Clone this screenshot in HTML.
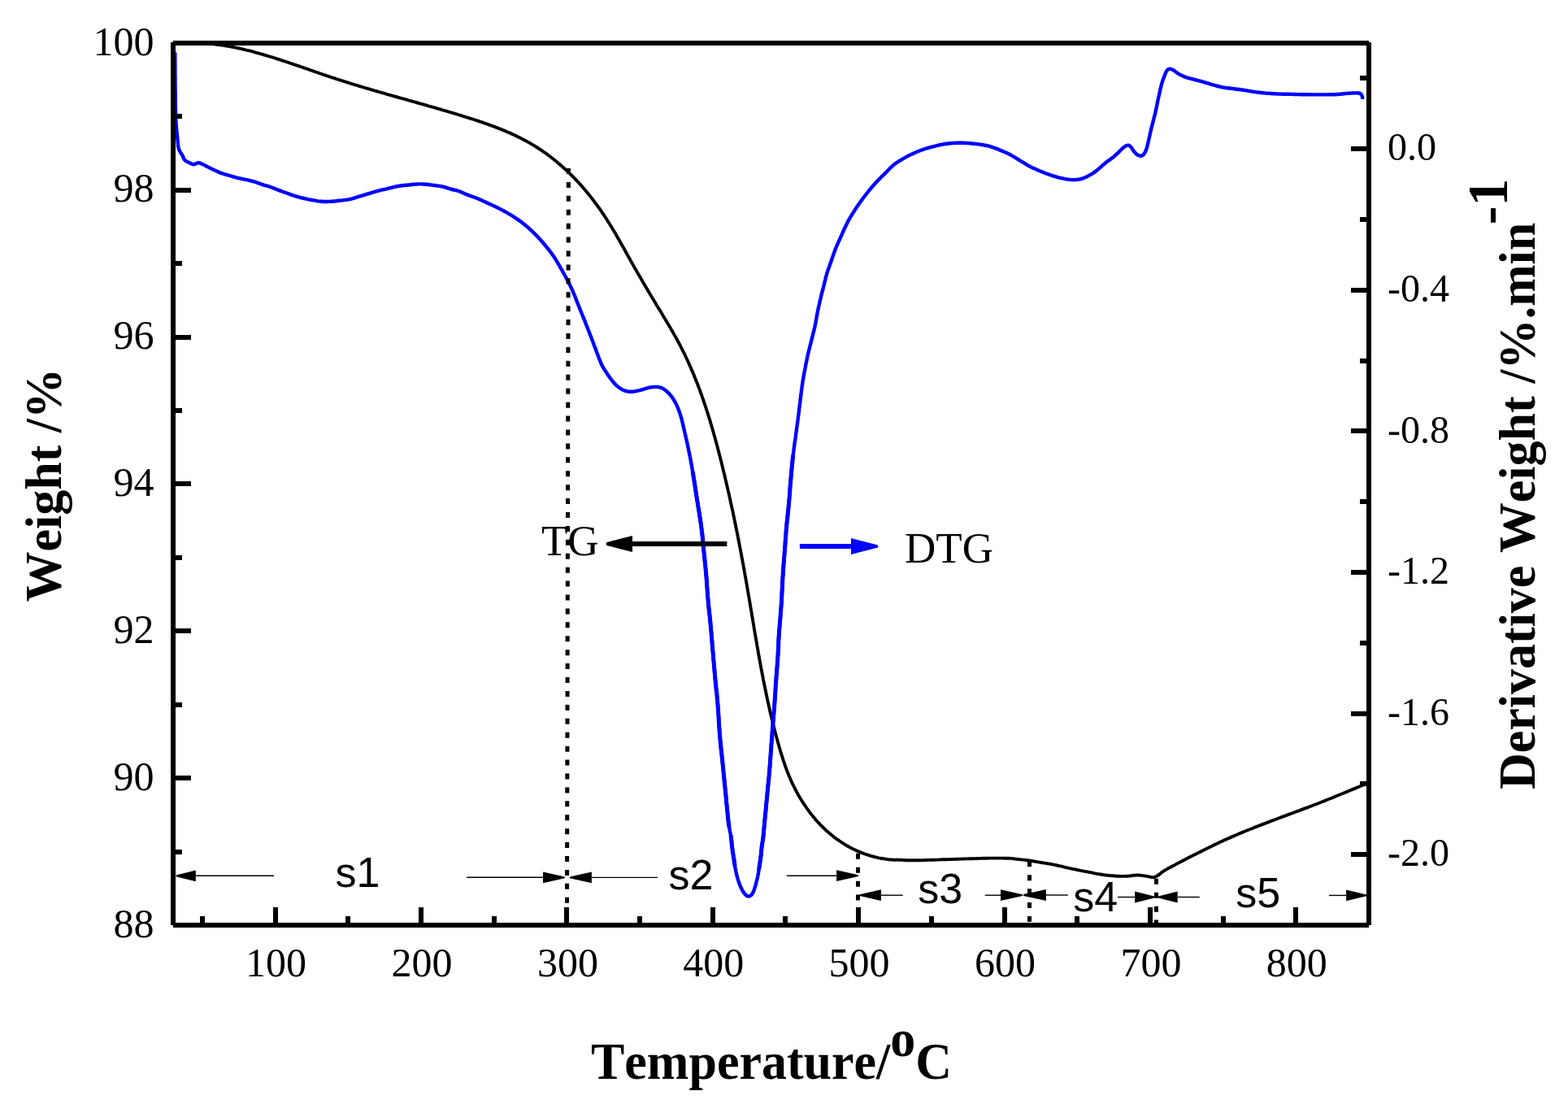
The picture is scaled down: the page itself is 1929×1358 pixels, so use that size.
<!DOCTYPE html>
<html><head><meta charset="utf-8"><title>TG-DTG</title>
<style>html,body{margin:0;padding:0;background:#fff;overflow:hidden}svg{display:block}text{font-kerning:none}</style>
</head><body>
<svg width="1929" height="1358" viewBox="0 0 1929 1358">
<rect width="1929" height="1358" fill="#fff"/>
<path d="M213.3 53.9L215.3 53.6L217.3 53.5L219.3 53.3L221.3 53.1L223.3 53.0L225.3 52.9L227.3 52.8L229.3 52.7L231.3 52.7L233.3 52.7L235.2 52.6L237.2 52.6L239.2 52.7L241.2 52.7L243.2 52.8L245.2 52.8L247.1 52.9L249.1 53.0L251.1 53.2L253.1 53.3L255.0 53.4L257.0 53.6L259.0 53.8L261.0 54.0L262.9 54.2L264.9 54.5L266.8 54.7L268.8 55.0L270.8 55.2L272.7 55.5L274.7 55.8L276.6 56.1L278.6 56.5L280.6 56.8L282.5 57.1L284.5 57.5L286.4 57.9L288.4 58.3L290.3 58.7L292.3 59.1L294.2 59.5L296.1 59.9L298.1 60.4L300.0 60.8L302.0 61.3L303.9 61.8L305.9 62.2L307.8 62.7L309.7 63.2L311.7 63.7L313.6 64.3L315.5 64.8L317.5 65.3L319.4 65.9L321.3 66.4L323.3 67.0L325.2 67.5L327.1 68.1L329.0 68.7L331.0 69.3L332.9 69.9L334.8 70.4L336.7 71.0L338.7 71.7L340.6 72.3L342.5 72.9L344.4 73.5L346.3 74.1L348.3 74.8L350.2 75.4L352.1 76.0L354.0 76.7L355.9 77.3L357.8 78.0L359.8 78.6L361.7 79.3L363.6 79.9L365.5 80.6L367.4 81.2L369.3 81.9L371.2 82.5L373.1 83.2L375.0 83.9L376.9 84.5L378.9 85.2L380.8 85.8L382.7 86.5L384.6 87.2L386.5 87.8L388.4 88.5L390.3 89.1L392.2 89.8L394.1 90.5L396.0 91.1L397.9 91.8L399.8 92.4L401.7 93.1L403.6 93.7L405.5 94.3L407.4 95.0L409.3 95.6L411.2 96.2L413.1 96.9L415.0 97.5L416.9 98.1L418.8 98.7L420.7 99.3L422.6 99.9L424.5 100.5L426.4 101.1L428.3 101.7L430.2 102.3L432.1 102.9L434.0 103.5L435.9 104.1L437.8 104.6L439.7 105.2L441.6 105.8L443.5 106.4L445.4 106.9L447.3 107.5L449.2 108.1L451.1 108.6L453.0 109.2L454.9 109.7L456.8 110.3L458.7 110.9L460.6 111.4L462.5 112.0L464.4 112.5L466.2 113.1L468.1 113.6L470.0 114.1L471.9 114.7L473.8 115.2L475.7 115.8L477.6 116.3L479.5 116.8L481.4 117.4L483.3 117.9L485.2 118.5L487.1 119.0L489.0 119.5L490.9 120.1L492.8 120.6L494.7 121.1L496.6 121.7L498.5 122.2L500.4 122.7L502.3 123.3L504.3 123.8L506.2 124.3L508.1 124.9L510.0 125.4L511.9 126.0L513.8 126.5L515.7 127.0L517.6 127.6L519.5 128.1L521.4 128.7L523.3 129.2L525.2 129.7L527.1 130.3L529.0 130.8L531.0 131.4L532.9 131.9L534.8 132.5L536.7 133.0L538.6 133.6L540.5 134.1L542.4 134.7L544.3 135.3L546.3 135.8L548.2 136.4L550.1 136.9L552.0 137.5L553.9 138.1L555.9 138.7L557.8 139.2L559.7 139.8L561.6 140.4L563.5 141.0L565.5 141.6L567.4 142.2L569.3 142.8L571.2 143.4L573.2 144.0L575.1 144.6L577.0 145.2L579.0 145.8L580.9 146.4L582.8 147.0L584.7 147.7L586.7 148.3L588.6 148.9L590.5 149.6L592.4 150.2L594.4 150.9L596.3 151.6L598.2 152.2L600.1 152.9L602.0 153.6L603.9 154.3L605.8 155.0L607.7 155.7L609.6 156.4L611.5 157.1L613.4 157.9L615.3 158.6L617.1 159.4L619.0 160.1L620.9 160.9L622.7 161.7L624.6 162.5L626.4 163.3L628.3 164.1L630.1 164.9L632.0 165.8L633.8 166.6L635.6 167.5L637.4 168.4L639.2 169.3L641.0 170.2L642.8 171.1L644.5 172.0L646.3 172.9L648.1 173.9L649.8 174.9L651.5 175.8L653.3 176.8L655.0 177.9L656.7 178.9L658.4 179.9L660.1 181.0L661.7 182.0L663.4 183.1L665.1 184.2L666.7 185.3L668.3 186.5L670.0 187.6L671.6 188.7L673.2 189.9L674.8 191.1L676.4 192.3L678.0 193.5L679.5 194.7L681.1 195.9L682.6 197.2L684.2 198.4L685.7 199.7L687.2 201.0L688.7 202.2L690.2 203.5L691.7 204.9L693.2 206.2L694.6 207.5L696.1 208.9L697.5 210.2L699.0 211.6L700.4 212.9L701.8 214.3L703.2 215.7L704.6 217.1L706.0 218.5L707.4 220.0L708.8 221.4L710.1 222.9L711.5 224.3L712.8 225.8L714.1 227.2L715.5 228.7L716.8 230.2L718.1 231.7L719.4 233.2L720.6 234.7L721.9 236.2L723.2 237.8L724.4 239.3L725.7 240.9L726.9 242.4L728.1 244.0L729.3 245.5L730.5 247.1L731.7 248.7L732.9 250.3L734.1 251.9L735.3 253.5L736.4 255.1L737.6 256.7L738.7 258.3L739.8 259.9L740.9 261.6L742.0 263.2L743.1 264.8L744.2 266.5L745.3 268.1L746.4 269.8L747.4 271.5L748.5 273.1L749.5 274.8L750.6 276.5L751.6 278.1L752.6 279.8L753.6 281.5L754.7 283.2L755.7 284.9L756.7 286.6L757.7 288.3L758.6 290.0L759.6 291.7L760.6 293.4L761.6 295.1L762.5 296.8L763.5 298.5L764.5 300.2L765.4 301.9L766.4 303.6L767.4 305.4L768.3 307.1L769.3 308.8L770.2 310.5L771.2 312.2L772.1 313.9L773.1 315.7L774.1 317.4L775.0 319.1L776.0 320.8L776.9 322.5L777.9 324.2L778.9 325.9L779.8 327.7L780.8 329.4L781.8 331.1L782.8 332.8L783.7 334.5L784.7 336.2L785.7 337.9L786.7 339.6L787.7 341.3L788.7 343.0L789.7 344.7L790.6 346.4L791.6 348.1L792.6 349.8L793.6 351.5L794.7 353.3L795.7 355.0L796.7 356.7L797.7 358.4L798.7 360.1L799.7 361.8L800.7 363.5L801.8 365.2L802.8 366.9L803.8 368.6L804.8 370.3L805.9 372.0L806.9 373.8L807.9 375.5L809.0 377.2L810.0 378.9L811.1 380.6L812.1 382.3L813.2 384.1L814.2 385.8L815.2 387.5L816.3 389.2L817.3 391.0L818.4 392.7L819.4 394.4L820.5 396.2L821.5 397.9L822.5 399.6L823.6 401.4L824.6 403.1L825.6 404.9L826.6 406.6L827.6 408.3L828.6 410.1L829.6 411.9L830.6 413.6L831.6 415.4L832.6 417.1L833.5 418.9L834.5 420.7L835.4 422.4L836.4 424.2L837.3 426.0L838.2 427.8L839.1 429.6L840.0 431.4L840.9 433.1L841.8 434.9L842.7 436.7L843.5 438.5L844.4 440.3L845.2 442.1L846.1 444.0L846.9 445.8L847.7 447.6L848.5 449.4L849.3 451.2L850.1 453.0L850.9 454.9L851.7 456.7L852.5 458.5L853.2 460.3L854.0 462.2L854.7 464.0L855.5 465.9L856.2 467.7L856.9 469.5L857.7 471.4L858.4 473.2L859.1 475.1L859.8 476.9L860.5 478.8L861.2 480.7L861.8 482.5L862.5 484.4L863.2 486.2L863.8 488.1L864.5 490.0L865.2 491.8L865.8 493.7L866.4 495.6L867.1 497.5L867.7 499.3L868.3 501.2L868.9 503.1L869.5 505.0L870.1 506.9L870.7 508.7L871.3 510.6L871.9 512.5L872.5 514.4L873.1 516.3L873.7 518.2L874.2 520.1L874.8 522.0L875.4 523.9L875.9 525.8L876.5 527.7L877.0 529.6L877.6 531.5L878.1 533.4L878.6 535.3L879.2 537.2L879.7 539.1L880.2 541.0L880.8 543.0L881.3 544.9L881.8 546.8L882.3 548.7L882.8 550.6L883.3 552.5L883.8 554.5L884.3 556.4L884.8 558.3L885.3 560.2L885.8 562.1L886.3 564.1L886.8 566.0L887.3 567.9L887.7 569.8L888.2 571.8L888.7 573.7L889.2 575.6L889.6 577.5L890.1 579.5L890.6 581.4L891.1 583.3L891.5 585.3L892.0 587.2L892.4 589.1L892.9 591.1L893.3 593.0L893.8 594.9L894.2 596.9L894.7 598.8L895.1 600.8L895.6 602.7L896.0 604.6L896.5 606.6L896.9 608.5L897.3 610.4L897.8 612.4L898.2 614.3L898.6 616.3L899.0 618.2L899.5 620.2L899.9 622.1L900.3 624.0L900.7 626.0L901.2 627.9L901.6 629.9L902.0 631.8L902.4 633.8L902.8 635.7L903.2 637.7L903.6 639.6L904.0 641.6L904.4 643.5L904.8 645.5L905.2 647.4L905.6 649.4L906.0 651.3L906.4 653.3L906.8 655.2L907.2 657.2L907.6 659.1L907.9 661.1L908.3 663.0L908.7 665.0L909.1 667.0L909.5 668.9L909.8 670.9L910.2 672.8L910.6 674.8L911.0 676.7L911.3 678.7L911.7 680.6L912.1 682.6L912.4 684.6L912.8 686.5L913.2 688.5L913.5 690.4L913.9 692.4L914.3 694.4L914.6 696.3L915.0 698.3L915.3 700.2L915.7 702.2L916.0 704.1L916.4 706.1L916.7 708.1L917.1 710.0L917.4 712.0L917.8 713.9L918.1 715.9L918.5 717.9L918.8 719.8L919.1 721.8L919.5 723.7L919.8 725.7L920.1 727.7L920.5 729.6L920.8 731.6L921.2 733.5L921.5 735.5L921.8 737.5L922.2 739.4L922.5 741.4L922.8 743.4L923.1 745.3L923.5 747.3L923.8 749.2L924.1 751.2L924.5 753.2L924.8 755.1L925.1 757.1L925.4 759.0L925.8 761.0L926.1 763.0L926.4 764.9L926.8 766.9L927.1 768.8L927.4 770.8L927.7 772.8L928.1 774.7L928.4 776.7L928.7 778.6L929.1 780.6L929.4 782.5L929.7 784.5L930.1 786.5L930.4 788.4L930.8 790.4L931.1 792.3L931.4 794.3L931.8 796.3L932.1 798.2L932.5 800.2L932.8 802.1L933.1 804.1L933.5 806.0L933.8 808.0L934.2 809.9L934.5 811.9L934.9 813.8L935.3 815.8L935.6 817.8L936.0 819.7L936.3 821.7L936.7 823.6L937.1 825.6L937.4 827.5L937.8 829.5L938.2 831.4L938.6 833.4L938.9 835.3L939.3 837.3L939.7 839.2L940.1 841.2L940.5 843.1L940.9 845.0L941.3 847.0L941.7 848.9L942.1 850.9L942.5 852.8L942.9 854.8L943.3 856.7L943.7 858.7L944.1 860.6L944.5 862.5L945.0 864.5L945.4 866.4L945.8 868.4L946.3 870.3L946.7 872.2L947.1 874.2L947.6 876.1L948.0 878.1L948.5 880.0L949.0 881.9L949.4 883.9L949.9 885.8L950.4 887.7L950.8 889.7L951.3 891.6L951.8 893.5L952.3 895.4L952.8 897.4L953.3 899.3L953.8 901.2L954.3 903.2L954.8 905.1L955.3 907.0L955.9 908.9L956.4 910.9L956.9 912.8L957.5 914.7L958.0 916.6L958.6 918.5L959.1 920.5L959.7 922.4L960.2 924.3L960.8 926.2L961.4 928.1L962.0 930.0L962.6 931.9L963.2 933.8L963.8 935.7L964.5 937.6L965.1 939.5L965.8 941.4L966.4 943.3L967.1 945.2L967.8 947.1L968.5 948.9L969.3 950.8L970.0 952.6L970.7 954.5L971.5 956.3L972.3 958.2L973.1 960.0L973.9 961.8L974.8 963.6L975.6 965.4L976.5 967.2L977.4 969.0L978.3 970.8L979.3 972.6L980.2 974.3L981.2 976.1L982.1 977.8L983.1 979.6L984.1 981.3L985.2 983.0L986.2 984.7L987.3 986.4L988.4 988.0L989.4 989.7L990.6 991.4L991.7 993.0L992.8 994.6L994.0 996.2L995.2 997.8L996.3 999.4L997.5 1001.0L998.8 1002.5L1000.0 1004.0L1001.3 1005.6L1002.5 1007.1L1003.8 1008.6L1005.1 1010.0L1006.4 1011.5L1007.8 1012.9L1009.1 1014.4L1010.5 1015.8L1011.9 1017.1L1013.3 1018.5L1014.7 1019.9L1016.1 1021.2L1017.5 1022.5L1019.0 1023.8L1020.5 1025.1L1022.0 1026.3L1023.5 1027.6L1025.0 1028.8L1026.5 1030.0L1028.1 1031.2L1029.7 1032.3L1031.3 1033.4L1032.9 1034.5L1034.5 1035.6L1036.1 1036.7L1037.7 1037.7L1039.4 1038.8L1041.1 1039.8L1042.8 1040.7L1044.5 1041.7L1046.2 1042.6L1047.9 1043.5L1049.7 1044.4L1051.4 1045.2L1053.2 1046.1L1055.0 1046.9L1056.8 1047.6L1058.6 1048.4L1060.4 1049.1L1062.2 1049.8L1064.1 1050.5L1065.9 1051.1L1067.8 1051.7L1069.7 1052.3L1071.5 1052.9L1073.4 1053.4L1075.4 1053.9L1077.3 1054.4L1079.2 1054.8L1081.1 1055.3L1083.1 1055.7L1085.0 1056.0L1087.0 1056.3L1089.0 1056.6L1091.0 1056.9L1093.0 1057.2L1095.0 1057.4L1097.0 1057.5L1099.0 1057.7L1101.0 1057.8L1102.7 1057.5L1104.0 1057.6L1105.7 1057.7L1107.7 1057.8L1110.0 1057.9L1112.3 1058.0L1114.8 1058.2L1117.1 1058.2L1119.3 1058.3L1121.3 1058.3L1123.2 1058.3L1125.1 1058.3L1126.9 1058.3L1128.9 1058.3L1131.0 1058.2L1133.4 1058.2L1136.0 1058.1L1139.0 1058.0L1142.2 1057.9L1145.7 1057.8L1149.3 1057.7L1153.0 1057.6L1156.7 1057.4L1160.4 1057.3L1164.0 1057.2L1167.5 1057.1L1171.0 1057.0L1174.5 1056.9L1178.0 1056.7L1181.5 1056.6L1185.0 1056.5L1188.5 1056.4L1192.0 1056.3L1195.5 1056.2L1199.2 1056.1L1202.8 1056.0L1206.4 1055.9L1210.0 1055.8L1213.5 1055.7L1216.8 1055.6L1220.0 1055.6L1223.0 1055.6L1226.0 1055.6L1228.8 1055.6L1231.5 1055.6L1234.1 1055.6L1236.5 1055.7L1238.8 1055.7L1240.9 1055.8L1242.7 1055.9L1244.3 1056.0L1245.6 1056.1L1246.8 1056.3L1247.9 1056.4L1249.1 1056.6L1250.4 1056.7L1251.8 1056.9L1253.4 1057.1L1255.1 1057.3L1256.9 1057.4L1258.7 1057.6L1260.5 1057.8L1262.4 1058.0L1264.2 1058.3L1265.9 1058.5L1267.6 1058.7L1269.2 1059.0L1270.7 1059.3L1272.3 1059.5L1273.9 1059.8L1275.5 1060.1L1277.2 1060.4L1279.0 1060.7L1280.8 1061.0L1282.7 1061.3L1284.6 1061.6L1286.6 1061.9L1288.6 1062.2L1290.8 1062.6L1293.0 1063.0L1295.3 1063.4L1297.8 1063.9L1300.4 1064.5L1303.1 1065.1L1305.9 1065.7L1308.7 1066.4L1311.5 1067.1L1314.3 1067.7L1317.1 1068.3L1319.8 1068.9L1322.6 1069.4L1325.3 1070.0L1328.0 1070.6L1330.7 1071.1L1333.5 1071.7L1336.2 1072.2L1338.9 1072.7L1341.6 1073.2L1344.3 1073.7L1347.0 1074.3L1349.8 1074.8L1352.5 1075.3L1355.2 1075.7L1357.9 1076.1L1360.6 1076.5L1363.4 1076.8L1366.2 1077.1L1369.0 1077.3L1371.8 1077.5L1374.6 1077.7L1377.3 1077.8L1379.9 1077.9L1382.4 1077.9L1384.7 1077.8L1387.0 1077.7L1389.2 1077.5L1391.2 1077.2L1393.2 1077.0L1395.1 1076.7L1397.0 1076.6L1398.7 1076.5L1400.3 1076.5L1401.8 1076.6L1403.2 1076.7L1404.5 1076.9L1405.7 1077.1L1407.0 1077.3L1408.3 1077.4L1409.6 1077.6L1411.0 1077.8L1412.3 1078.1L1413.7 1078.4L1415.0 1078.7L1416.4 1079.0L1417.8 1079.1L1419.1 1079.1L1420.5 1078.8L1421.9 1078.3L1423.3 1077.5L1424.7 1076.6L1426.1 1075.6L1427.5 1074.5L1428.8 1073.4L1430.1 1072.4L1431.4 1071.6L1432.5 1070.9L1433.4 1070.4L1434.2 1069.9L1435.0 1069.4L1435.9 1068.9L1436.9 1068.3L1438.3 1067.6L1440.0 1066.7L1442.1 1065.6L1444.4 1064.4L1446.9 1063.0L1449.7 1061.6L1452.6 1060.0L1455.7 1058.4L1458.9 1056.8L1462.2 1055.1L1465.7 1053.3L1469.3 1051.4L1473.2 1049.5L1477.2 1047.4L1481.2 1045.4L1485.3 1043.4L1489.4 1041.4L1493.3 1039.5L1497.2 1037.7L1501.1 1035.8L1505.0 1034.1L1508.8 1032.3L1512.7 1030.6L1516.6 1028.9L1520.5 1027.2L1524.4 1025.5L1528.3 1023.9L1532.2 1022.3L1536.1 1020.7L1540.0 1019.2L1543.8 1017.6L1547.7 1016.1L1551.6 1014.6L1555.5 1013.1L1559.4 1011.6L1563.3 1010.1L1567.2 1008.7L1571.0 1007.2L1574.9 1005.7L1578.8 1004.3L1582.7 1002.9L1586.6 1001.4L1590.5 1000.0L1594.4 998.5L1598.3 997.1L1602.1 995.6L1606.0 994.2L1609.9 992.8L1613.8 991.3L1617.7 989.8L1621.6 988.3L1625.5 986.7L1629.5 985.1L1633.4 983.5L1637.4 982.0L1641.2 980.4L1645.1 978.8L1648.8 977.3L1652.6 975.7L1656.5 974.1L1660.4 972.5L1664.3 970.9L1668.0 969.4L1671.3 968.0L1674.3 966.7L1676.8 965.7L1678.7 964.9L1680.2 964.2L1681.3 963.7L1682.1 963.4L1682.7 963.1L1683.2 962.9L1683.6 962.7L1684.0 962.5" fill="none" stroke="#000" stroke-width="3.9" stroke-linejoin="round"/>
<path d="M215.3 64.5L215.3 66.5L215.3 68.6L215.3 70.5L215.3 72.5L215.3 74.5L215.4 76.5L215.4 78.5L215.4 80.5L215.4 82.5L215.4 84.5L215.4 86.5L215.4 88.5L215.4 90.5L215.4 92.5L215.5 94.5L215.5 96.5L215.5 98.5L215.5 100.5L215.5 102.5L215.5 104.5L215.6 106.5L215.6 108.5L215.6 110.5L215.6 112.5L215.7 114.5L215.7 116.5L215.7 118.5L215.7 120.5L215.8 122.5L215.8 124.5L215.8 126.5L215.8 128.5L215.9 130.5L215.9 132.5L215.9 134.5L216.0 136.5L216.0 138.5L216.1 140.5L216.2 142.5L216.2 144.5L216.3 146.5L216.4 148.5L216.5 150.5L216.6 152.5L216.8 154.5L216.9 156.5L217.1 158.5L217.3 160.5L217.5 162.4L217.7 164.4L217.9 166.4L218.1 168.4L218.3 170.4L218.5 172.4L218.7 174.4L218.9 176.4L219.0 178.4L219.3 180.3L219.7 182.3L220.3 184.2L221.1 186.0L222.1 187.7L223.2 189.3L224.3 190.9L225.1 192.7L225.8 194.5L226.7 196.2L228.0 197.5L229.7 198.6L231.5 199.5L233.3 200.3L235.0 201.2L236.8 202.0L238.6 202.2L240.3 201.7L242.0 200.8L243.7 200.2L245.5 200.4L247.3 201.1L249.1 202.0L250.9 202.9L252.7 203.8L254.4 204.7L256.2 205.6L258.0 206.5L259.8 207.4L261.6 208.2L263.4 209.1L265.2 210.0L267.0 210.8L268.9 211.6L270.7 212.4L272.6 213.1L274.5 213.7L276.4 214.3L278.3 214.8L280.3 215.4L282.2 215.9L284.1 216.5L286.0 217.1L287.9 217.7L289.8 218.2L291.8 218.8L293.7 219.2L295.7 219.6L297.6 220.0L299.6 220.4L301.5 220.8L303.5 221.2L305.5 221.6L307.4 222.1L309.3 222.6L311.3 223.1L313.2 223.6L315.1 224.2L317.0 224.9L318.9 225.6L320.7 226.3L322.6 226.9L324.5 227.6L326.4 228.1L328.4 228.7L330.3 229.2L332.2 229.8L334.1 230.5L336.0 231.2L337.8 231.9L339.7 232.7L341.5 233.4L343.4 234.1L345.3 234.9L347.1 235.5L349.0 236.2L350.9 236.9L352.8 237.5L354.7 238.2L356.6 238.9L358.5 239.6L360.3 240.2L362.2 240.9L364.1 241.5L366.1 242.0L368.0 242.6L369.9 243.1L371.9 243.5L373.8 244.0L375.8 244.4L377.7 244.9L379.7 245.3L381.6 245.7L383.6 246.0L385.6 246.4L387.5 246.7L389.5 247.1L391.5 247.4L393.5 247.6L395.5 247.8L397.5 248.0L399.4 248.0L401.4 248.0L403.4 248.0L405.4 247.9L407.4 247.8L409.4 247.7L411.4 247.5L413.4 247.3L415.4 247.0L417.4 246.8L419.4 246.6L421.4 246.4L423.4 246.1L425.3 245.9L427.3 245.6L429.3 245.3L431.2 244.9L433.2 244.4L435.1 243.8L437.0 243.2L438.9 242.6L440.8 242.0L442.7 241.4L444.6 240.8L446.6 240.3L448.5 239.7L450.4 239.1L452.3 238.5L454.2 238.0L456.1 237.4L458.0 236.8L460.0 236.2L461.9 235.7L463.8 235.2L465.8 234.7L467.7 234.2L469.6 233.7L471.6 233.2L473.5 232.8L475.5 232.3L477.4 231.8L479.3 231.3L481.3 230.8L483.2 230.4L485.2 229.9L487.1 229.5L489.1 229.1L491.1 228.8L493.0 228.5L495.0 228.2L497.0 228.0L499.0 227.8L501.0 227.7L503.0 227.5L505.0 227.3L507.0 227.0L509.0 226.8L510.9 226.6L512.9 226.5L514.9 226.4L516.9 226.4L518.9 226.4L520.9 226.5L522.9 226.7L524.9 226.8L526.9 227.0L528.9 227.3L530.9 227.6L532.9 227.8L534.8 228.1L536.8 228.3L538.8 228.6L540.8 228.9L542.8 229.2L544.7 229.6L546.6 230.1L548.6 230.7L550.5 231.3L552.4 231.9L554.3 232.5L556.2 233.0L558.2 233.5L560.1 233.9L562.0 234.4L564.0 235.0L565.9 235.6L567.7 236.4L569.5 237.2L571.3 238.0L573.2 238.9L575.0 239.6L576.9 240.4L578.7 241.0L580.6 241.7L582.5 242.3L584.4 243.0L586.3 243.7L588.1 244.5L590.0 245.3L591.8 246.1L593.6 246.9L595.4 247.8L597.2 248.6L599.0 249.4L600.9 250.3L602.7 251.1L604.5 251.9L606.3 252.8L608.1 253.6L610.0 254.5L611.8 255.3L613.5 256.2L615.3 257.1L617.1 258.1L618.9 259.0L620.6 260.0L622.4 260.9L624.1 261.9L625.8 262.9L627.6 263.9L629.3 264.9L631.0 266.0L632.7 267.1L634.3 268.2L636.0 269.3L637.6 270.4L639.3 271.6L640.9 272.8L642.5 274.0L644.0 275.2L645.6 276.5L647.1 277.7L648.7 279.0L650.2 280.4L651.6 281.7L653.1 283.1L654.6 284.4L656.0 285.8L657.5 287.2L658.9 288.6L660.3 290.0L661.7 291.5L663.0 292.9L664.4 294.4L665.7 295.9L667.0 297.4L668.3 299.0L669.6 300.5L670.9 302.0L672.2 303.6L673.4 305.1L674.7 306.7L675.9 308.2L677.1 309.8L678.3 311.4L679.5 313.0L680.7 314.7L681.8 316.3L682.9 318.0L683.9 319.7L685.0 321.4L686.0 323.1L687.0 324.9L688.0 326.6L689.0 328.3L690.0 330.1L691.0 331.8L692.0 333.5L692.9 335.3L693.9 337.0L694.9 338.8L695.9 340.5L696.8 342.3L697.7 344.0L698.7 345.8L699.6 347.6L700.5 349.4L701.4 351.2L702.2 353.0L703.1 354.8L703.9 356.6L704.8 358.4L705.5 360.3L706.3 362.1L707.1 364.0L707.8 365.8L708.5 367.7L709.2 369.6L710.0 371.4L710.7 373.3L711.5 375.1L712.2 377.0L712.9 378.8L713.7 380.7L714.4 382.6L715.2 384.4L715.9 386.3L716.7 388.1L717.4 390.0L718.2 391.8L718.9 393.7L719.7 395.5L720.4 397.4L721.1 399.3L721.9 401.1L722.6 403.0L723.3 404.8L724.1 406.7L724.8 408.6L725.5 410.4L726.2 412.3L727.0 414.2L727.7 416.0L728.4 417.9L729.1 419.8L729.8 421.6L730.5 423.5L731.2 425.4L731.9 427.3L732.6 429.1L733.3 431.0L734.0 432.9L734.7 434.8L735.4 436.6L736.1 438.5L736.8 440.4L737.5 442.2L738.3 444.1L739.0 445.9L739.8 447.8L740.7 449.6L741.6 451.3L742.6 453.1L743.7 454.8L744.8 456.4L745.9 458.1L747.0 459.8L748.1 461.4L749.3 463.1L750.4 464.7L751.6 466.3L752.8 467.9L754.1 469.4L755.4 471.0L756.7 472.4L758.1 473.9L759.6 475.2L761.2 476.4L762.8 477.6L764.5 478.7L766.3 479.6L768.1 480.4L770.0 481.0L771.9 481.4L773.9 481.7L775.9 481.8L777.9 481.8L779.9 481.6L781.8 481.2L783.8 480.8L785.8 480.4L787.7 479.9L789.6 479.3L791.5 478.8L793.5 478.2L795.4 477.7L797.3 477.1L799.2 476.7L801.2 476.3L803.2 476.1L805.2 475.9L807.2 475.9L809.2 476.0L811.1 476.3L813.0 476.8L814.8 477.6L816.6 478.6L818.2 479.7L819.8 481.0L821.3 482.3L822.7 483.7L824.0 485.2L825.3 486.7L826.5 488.3L827.7 489.9L828.7 491.6L829.8 493.3L830.8 495.1L831.7 496.8L832.6 498.6L833.4 500.5L834.2 502.3L834.9 504.2L835.5 506.1L836.2 507.9L836.8 509.8L837.4 511.7L838.0 513.7L838.6 515.6L839.1 517.5L839.5 519.5L840.0 521.4L840.4 523.4L840.9 525.3L841.3 527.3L841.8 529.2L842.2 531.2L842.7 533.1L843.1 535.1L843.6 537.0L844.0 539.0L844.5 540.9L844.9 542.8L845.4 544.8L845.8 546.8L846.2 548.7L846.6 550.7L847.0 552.6L847.4 554.6L847.8 556.5L848.2 558.5L848.6 560.5L849.0 562.4L849.4 564.4L849.7 566.4L850.1 568.3L850.5 570.3L850.8 572.3L851.2 574.2L851.5 576.2L851.8 578.2L852.2 580.1L852.5 582.1L852.8 584.1L853.1 586.1L853.4 588.0L853.8 590.0L854.1 592.0L854.4 594.0L854.7 595.9L855.0 597.9L855.3 599.9L855.6 601.9L855.9 603.9L856.2 605.8L856.5 607.8L856.8 609.8L857.1 611.8L857.4 613.7L857.7 615.7L858.1 617.7L858.4 619.7L858.7 621.6L859.0 623.6L859.3 625.6L859.7 627.6L860.0 629.5L860.3 631.5L860.6 633.5L860.9 635.5L861.2 637.4L861.5 639.4L861.8 641.4L862.1 643.4L862.4 645.3L862.7 647.3L862.9 649.3L863.2 651.3L863.4 653.3L863.7 655.3L863.9 657.3L864.1 659.2L864.3 661.2L864.5 663.2L864.7 665.2L864.9 667.2L865.0 669.2L865.2 671.2L865.4 673.2L865.6 675.2L865.8 677.2L866.0 679.2L866.2 681.1L866.4 683.1L866.6 685.1L866.8 687.1L867.0 689.1L867.2 691.1L867.4 693.1L867.6 695.1L867.8 697.1L868.0 699.1L868.2 701.0L868.4 703.0L868.6 705.0L868.7 707.0L868.9 709.0L869.1 711.0L869.2 713.0L869.4 715.0L869.5 717.0L869.6 719.0L869.8 721.0L869.9 723.0L870.1 725.0L870.2 727.0L870.3 729.0L870.5 731.0L870.6 732.9L870.8 734.9L871.0 736.9L871.2 738.9L871.3 740.9L871.5 742.9L871.7 744.9L871.9 746.9L872.1 748.9L872.3 750.9L872.6 752.9L872.8 754.8L873.0 756.8L873.2 758.8L873.4 760.8L873.6 762.8L873.8 764.8L874.0 766.8L874.2 768.8L874.4 770.8L874.6 772.8L874.7 774.7L874.9 776.7L875.1 778.7L875.2 780.7L875.4 782.7L875.6 784.7L875.7 786.7L875.9 788.7L876.1 790.7L876.2 792.7L876.4 794.7L876.6 796.7L876.7 798.7L876.9 800.7L877.1 802.7L877.2 804.6L877.4 806.6L877.6 808.6L877.7 810.6L877.9 812.6L878.1 814.6L878.3 816.6L878.4 818.6L878.6 820.6L878.8 822.6L879.0 824.6L879.1 826.6L879.3 828.6L879.5 830.5L879.7 832.5L879.8 834.5L880.0 836.5L880.2 838.5L880.4 840.5L880.6 842.5L880.8 844.5L881.0 846.5L881.2 848.5L881.4 850.4L881.7 852.4L881.9 854.4L882.1 856.4L882.3 858.4L882.4 860.4L882.6 862.4L882.8 864.4L883.0 866.4L883.1 868.4L883.3 870.4L883.4 872.4L883.6 874.4L883.7 876.4L883.8 878.3L883.9 880.3L884.1 882.3L884.2 884.3L884.3 886.3L884.4 888.3L884.5 890.3L884.7 892.3L884.8 894.3L884.9 896.3L885.1 898.3L885.2 900.3L885.4 902.3L885.5 904.3L885.7 906.3L885.9 908.3L886.0 910.3L886.2 912.3L886.4 914.2L886.6 916.2L886.8 918.2L887.0 920.2L887.2 922.2L887.5 924.2L887.7 926.2L887.9 928.2L888.1 930.2L888.3 932.2L888.5 934.1L888.7 936.1L888.9 938.1L889.1 940.1L889.3 942.1L889.5 944.1L889.7 946.1L889.9 948.1L890.1 950.1L890.3 952.0L890.5 954.0L890.7 956.0L890.9 958.0L891.1 960.0L891.3 962.0L891.5 964.0L891.7 966.0L891.9 968.0L892.1 970.0L892.3 972.0L892.5 973.9L892.7 975.9L892.9 977.9L893.1 979.9L893.3 981.9L893.5 983.9L893.6 985.9L893.8 987.9L894.0 989.9L894.2 991.9L894.4 993.9L894.6 995.8L894.8 997.8L895.0 999.8L895.2 1001.8L895.4 1003.8L895.6 1005.8L895.8 1007.8L896.0 1009.8L896.3 1011.8L896.5 1013.7L896.8 1015.7L897.1 1017.7L897.5 1019.7L897.8 1021.6L898.2 1023.6L898.6 1025.5L899.0 1027.5L899.3 1029.5L899.6 1031.5L899.8 1033.5L900.0 1035.4L900.2 1037.4L900.4 1039.4L900.6 1041.4L900.8 1043.4L901.1 1045.4L901.4 1047.4L901.7 1049.3L902.0 1051.3L902.3 1053.3L902.6 1055.3L902.9 1057.2L903.2 1059.2L903.5 1061.2L903.8 1063.2L904.1 1065.2L904.4 1067.1L904.8 1069.1L905.2 1071.1L905.6 1073.0L906.0 1075.0L906.5 1076.9L907.0 1078.8L907.5 1080.8L908.1 1082.7L908.7 1084.6L909.4 1086.5L910.1 1088.3L910.8 1090.2L911.7 1092.0L912.5 1093.8L913.5 1095.6L914.5 1097.3L915.7 1098.9L917.0 1100.4L918.4 1101.7L920.1 1102.5L921.9 1102.4L923.5 1101.6L924.9 1100.3L926.0 1098.6L926.8 1096.8L927.6 1095.0L928.2 1093.1L928.8 1091.2L929.4 1089.3L929.9 1087.3L930.4 1085.4L930.9 1083.5L931.4 1081.5L931.9 1079.6L932.3 1077.6L932.6 1075.7L933.0 1073.7L933.3 1071.7L933.6 1069.7L933.9 1067.8L934.2 1065.8L934.5 1063.8L934.8 1061.8L935.1 1059.8L935.4 1057.9L935.7 1055.9L935.9 1053.9L936.2 1051.9L936.4 1049.9L936.5 1047.9L936.7 1045.9L936.9 1044.0L937.1 1042.0L937.4 1040.0L937.7 1038.0L938.0 1036.0L938.3 1034.1L938.6 1032.1L938.9 1030.1L939.1 1028.1L939.3 1026.1L939.5 1024.1L939.6 1022.1L939.8 1020.1L940.0 1018.2L940.2 1016.2L940.4 1014.2L940.6 1012.2L940.7 1010.2L940.9 1008.2L941.1 1006.2L941.3 1004.2L941.5 1002.2L941.7 1000.2L941.9 998.2L942.1 996.3L942.3 994.3L942.4 992.3L942.6 990.3L942.8 988.3L943.0 986.3L943.2 984.3L943.4 982.3L943.6 980.3L943.8 978.3L944.0 976.3L944.1 974.4L944.3 972.4L944.5 970.4L944.7 968.4L944.9 966.4L945.1 964.4L945.3 962.4L945.5 960.4L945.7 958.4L945.9 956.4L946.1 954.4L946.2 952.5L946.4 950.5L946.6 948.5L946.7 946.5L946.9 944.5L947.1 942.5L947.2 940.5L947.4 938.5L947.5 936.5L947.6 934.5L947.8 932.5L947.9 930.5L948.1 928.5L948.2 926.5L948.4 924.5L948.5 922.5L948.7 920.5L948.8 918.5L948.9 916.6L949.1 914.6L949.2 912.6L949.4 910.6L949.5 908.6L949.7 906.6L949.8 904.6L950.0 902.6L950.1 900.6L950.3 898.6L950.4 896.6L950.6 894.6L950.7 892.6L950.9 890.6L951.0 888.6L951.2 886.6L951.4 884.6L951.5 882.7L951.7 880.7L951.8 878.7L952.0 876.7L952.2 874.7L952.3 872.7L952.5 870.7L952.6 868.7L952.8 866.7L952.9 864.7L953.1 862.7L953.2 860.7L953.4 858.7L953.5 856.7L953.6 854.7L953.7 852.7L953.9 850.7L954.0 848.7L954.1 846.7L954.2 844.7L954.3 842.8L954.5 840.8L954.6 838.8L954.8 836.8L954.9 834.8L955.1 832.8L955.2 830.8L955.4 828.8L955.5 826.8L955.7 824.8L955.8 822.8L956.0 820.8L956.1 818.8L956.3 816.8L956.4 814.8L956.6 812.8L956.7 810.8L956.8 808.8L957.0 806.8L957.1 804.9L957.2 802.9L957.3 800.9L957.4 798.9L957.5 796.9L957.6 794.9L957.7 792.9L957.8 790.9L957.8 788.9L957.9 786.9L958.0 784.9L958.1 782.9L958.3 780.9L958.4 778.9L958.5 776.9L958.7 774.9L958.9 772.9L959.0 770.9L959.2 768.9L959.4 766.9L959.5 764.9L959.7 762.9L959.9 760.9L960.0 759.0L960.2 757.0L960.3 755.0L960.5 753.0L960.6 751.0L960.8 749.0L960.9 747.0L961.1 745.0L961.2 743.0L961.4 741.0L961.5 739.0L961.6 737.0L961.7 735.0L961.8 733.0L961.9 731.0L962.0 729.0L962.1 727.0L962.2 725.0L962.3 723.0L962.4 721.0L962.5 719.0L962.6 717.0L962.7 715.0L962.8 713.0L962.9 711.0L963.0 709.0L963.2 707.1L963.3 705.1L963.4 703.1L963.6 701.1L963.7 699.1L963.9 697.1L964.0 695.1L964.2 693.1L964.3 691.1L964.5 689.1L964.6 687.1L964.8 685.1L964.9 683.1L965.1 681.1L965.2 679.1L965.4 677.1L965.5 675.1L965.7 673.1L965.8 671.2L966.0 669.2L966.1 667.2L966.2 665.2L966.4 663.2L966.5 661.2L966.7 659.2L966.8 657.2L967.0 655.2L967.1 653.2L967.3 651.2L967.5 649.2L967.7 647.2L967.8 645.2L968.0 643.2L968.2 641.3L968.5 639.3L968.7 637.3L968.9 635.3L969.1 633.3L969.3 631.3L969.5 629.3L969.7 627.3L969.9 625.3L970.1 623.4L970.3 621.4L970.5 619.4L970.7 617.4L970.8 615.4L971.0 613.4L971.2 611.4L971.3 609.4L971.5 607.4L971.6 605.4L971.8 603.4L971.9 601.4L972.0 599.4L972.2 597.4L972.4 595.4L972.5 593.4L972.7 591.5L972.9 589.5L973.0 587.5L973.2 585.5L973.4 583.5L973.6 581.5L973.8 579.5L973.9 577.5L974.1 575.5L974.3 573.5L974.5 571.5L974.7 569.5L974.9 567.6L975.1 565.6L975.3 563.6L975.5 561.6L975.8 559.6L976.0 557.6L976.2 555.6L976.5 553.6L976.7 551.7L977.0 549.7L977.3 547.7L977.5 545.7L977.8 543.7L978.1 541.8L978.4 539.8L978.7 537.8L978.9 535.8L979.2 533.8L979.5 531.9L979.8 529.9L980.0 527.9L980.3 525.9L980.5 523.9L980.8 521.9L981.1 520.0L981.3 518.0L981.6 516.0L981.8 514.0L982.1 512.0L982.4 510.0L982.6 508.1L982.9 506.1L983.1 504.1L983.3 502.1L983.6 500.1L983.8 498.1L984.1 496.1L984.3 494.2L984.6 492.2L984.8 490.2L985.0 488.2L985.3 486.2L985.5 484.2L985.8 482.3L986.0 480.3L986.3 478.3L986.5 476.3L986.8 474.3L987.1 472.3L987.4 470.4L987.7 468.4L988.0 466.4L988.4 464.4L988.7 462.5L989.1 460.5L989.4 458.5L989.8 456.6L990.2 454.6L990.6 452.6L990.9 450.7L991.3 448.7L991.7 446.8L992.1 444.8L992.5 442.8L992.9 440.9L993.3 438.9L993.7 437.0L994.2 435.0L994.7 433.1L995.1 431.1L995.6 429.2L996.1 427.2L996.6 425.3L997.1 423.4L997.6 421.4L998.1 419.5L998.5 417.6L999.0 415.6L999.5 413.7L1000.0 411.7L1000.5 409.8L1001.0 407.9L1001.5 405.9L1001.9 404.0L1002.4 402.0L1002.8 400.1L1003.2 398.1L1003.6 396.1L1003.9 394.2L1004.3 392.2L1004.6 390.2L1005.0 388.3L1005.3 386.3L1005.7 384.3L1006.1 382.4L1006.5 380.4L1006.9 378.5L1007.3 376.5L1007.8 374.5L1008.2 372.6L1008.6 370.6L1009.1 368.7L1009.6 366.7L1010.0 364.8L1010.5 362.9L1011.0 360.9L1011.5 359.0L1012.0 357.1L1012.5 355.1L1013.0 353.2L1013.5 351.2L1014.0 349.3L1014.4 347.3L1014.9 345.4L1015.4 343.5L1015.8 341.5L1016.4 339.6L1016.9 337.7L1017.5 335.7L1018.1 333.8L1018.7 331.9L1019.4 330.1L1020.1 328.2L1020.7 326.3L1021.4 324.4L1022.1 322.5L1022.8 320.6L1023.4 318.8L1024.0 316.9L1024.7 315.0L1025.3 313.1L1026.0 311.2L1026.7 309.3L1027.4 307.4L1028.1 305.6L1028.9 303.7L1029.6 301.9L1030.4 300.0L1031.3 298.2L1032.1 296.4L1032.9 294.6L1033.8 292.8L1034.6 290.9L1035.4 289.1L1036.2 287.3L1037.0 285.5L1037.8 283.6L1038.6 281.8L1039.5 280.0L1040.3 278.2L1041.2 276.4L1042.1 274.6L1043.0 272.8L1043.9 271.0L1044.9 269.3L1045.9 267.6L1047.0 265.9L1048.0 264.1L1049.1 262.5L1050.1 260.8L1051.2 259.1L1052.3 257.4L1053.4 255.7L1054.5 254.1L1055.6 252.4L1056.8 250.8L1057.9 249.1L1059.1 247.5L1060.3 245.9L1061.4 244.3L1062.6 242.7L1063.9 241.1L1065.1 239.5L1066.3 237.9L1067.6 236.4L1068.8 234.8L1070.1 233.3L1071.4 231.7L1072.6 230.2L1073.9 228.7L1075.2 227.2L1076.6 225.7L1077.9 224.2L1079.3 222.7L1080.7 221.3L1082.1 219.9L1083.5 218.5L1084.9 217.0L1086.4 215.7L1087.8 214.3L1089.2 212.9L1090.6 211.4L1092.0 210.0L1093.4 208.6L1094.8 207.1L1096.2 205.7L1097.7 204.4L1099.2 203.0L1100.7 201.8L1102.3 200.6L1104.0 199.5L1105.7 198.4L1107.4 197.3L1109.1 196.3L1110.8 195.3L1112.5 194.3L1114.3 193.3L1116.0 192.4L1117.8 191.4L1119.6 190.6L1121.4 189.7L1123.2 188.9L1125.1 188.0L1126.9 187.3L1128.7 186.5L1130.6 185.7L1132.5 185.0L1134.3 184.3L1136.2 183.7L1138.1 183.0L1140.0 182.4L1142.0 181.9L1143.9 181.3L1145.8 180.8L1147.7 180.3L1149.7 179.8L1151.6 179.3L1153.6 178.9L1155.5 178.4L1157.5 178.0L1159.4 177.6L1161.4 177.3L1163.4 177.0L1165.4 176.7L1167.4 176.5L1169.4 176.3L1171.3 176.1L1173.3 176.0L1175.3 175.9L1177.3 175.8L1179.3 175.7L1181.3 175.7L1183.3 175.7L1185.3 175.8L1187.3 175.9L1189.3 176.0L1191.3 176.1L1193.3 176.3L1195.3 176.5L1197.3 176.7L1199.3 176.9L1201.3 177.1L1203.3 177.3L1205.2 177.6L1207.2 177.9L1209.2 178.2L1211.2 178.6L1213.1 179.0L1215.1 179.4L1217.0 179.9L1218.9 180.5L1220.8 181.0L1222.7 181.7L1224.6 182.4L1226.5 183.1L1228.3 183.8L1230.2 184.6L1232.0 185.4L1233.9 186.1L1235.7 186.9L1237.5 187.7L1239.4 188.6L1241.2 189.4L1242.9 190.3L1244.7 191.3L1246.4 192.3L1248.1 193.3L1249.8 194.4L1251.5 195.5L1253.2 196.5L1254.9 197.6L1256.6 198.6L1258.3 199.7L1260.0 200.7L1261.8 201.7L1263.5 202.8L1265.2 203.8L1267.0 204.7L1268.7 205.6L1270.5 206.5L1272.4 207.3L1274.2 208.1L1276.0 208.9L1277.9 209.7L1279.7 210.5L1281.6 211.2L1283.4 212.0L1285.3 212.7L1287.1 213.5L1289.0 214.1L1290.9 214.8L1292.8 215.5L1294.7 216.1L1296.6 216.7L1298.5 217.2L1300.4 217.8L1302.4 218.3L1304.3 218.8L1306.3 219.2L1308.2 219.7L1310.2 220.1L1312.1 220.4L1314.1 220.7L1316.1 220.9L1318.1 221.1L1320.1 221.1L1322.1 221.1L1324.1 221.0L1326.1 220.8L1328.1 220.5L1330.0 220.0L1331.9 219.4L1333.8 218.7L1335.6 218.0L1337.4 217.1L1339.2 216.2L1341.0 215.2L1342.7 214.2L1344.4 213.2L1346.0 212.1L1347.7 210.9L1349.2 209.7L1350.8 208.4L1352.3 207.1L1353.8 205.8L1355.3 204.4L1356.8 203.1L1358.3 201.8L1359.8 200.5L1361.4 199.3L1363.0 198.1L1364.6 196.9L1366.3 195.8L1367.9 194.6L1369.5 193.4L1371.0 192.1L1372.5 190.7L1373.9 189.4L1375.4 188.0L1376.8 186.6L1378.2 185.2L1379.6 183.8L1381.1 182.4L1382.6 181.1L1384.2 179.9L1385.9 179.1L1387.8 178.7L1389.5 179.2L1390.9 180.4L1392.1 181.9L1393.2 183.6L1394.3 185.3L1395.5 186.9L1396.8 188.4L1398.2 189.7L1399.9 190.8L1401.7 191.5L1403.5 191.8L1405.3 191.3L1406.8 190.2L1407.9 188.6L1408.9 186.9L1409.7 185.1L1410.4 183.2L1411.0 181.3L1411.5 179.3L1412.0 177.4L1412.4 175.5L1412.8 173.5L1413.3 171.6L1413.7 169.6L1414.2 167.7L1414.6 165.7L1415.0 163.8L1415.5 161.8L1415.9 159.9L1416.4 157.9L1416.9 156.0L1417.4 154.0L1417.9 152.1L1418.4 150.2L1418.9 148.2L1419.4 146.3L1419.9 144.3L1420.4 142.4L1420.9 140.5L1421.3 138.5L1421.8 136.6L1422.2 134.6L1422.6 132.7L1423.0 130.7L1423.4 128.7L1423.8 126.8L1424.2 124.8L1424.6 122.9L1425.0 120.9L1425.4 119.0L1425.9 117.0L1426.3 115.0L1426.7 113.1L1427.1 111.1L1427.6 109.2L1428.1 107.2L1428.6 105.3L1429.1 103.4L1429.6 101.5L1430.3 99.6L1430.9 97.7L1431.6 95.8L1432.3 93.9L1433.1 92.1L1433.8 90.2L1434.6 88.4L1435.7 86.7L1437.0 85.4L1438.7 84.8L1440.5 84.9L1442.3 85.6L1444.0 86.6L1445.6 87.8L1447.2 89.0L1448.8 90.1L1450.5 91.2L1452.3 92.1L1454.1 93.0L1455.9 93.8L1457.8 94.6L1459.7 95.3L1461.6 95.9L1463.5 96.4L1465.4 96.9L1467.4 97.3L1469.3 97.8L1471.3 98.3L1473.2 98.8L1475.1 99.3L1477.0 99.8L1479.0 100.4L1480.9 101.0L1482.8 101.5L1484.7 102.1L1486.6 102.7L1488.5 103.3L1490.5 103.9L1492.4 104.4L1494.3 104.9L1496.2 105.5L1498.2 106.0L1500.1 106.5L1502.1 106.9L1504.0 107.4L1506.0 107.7L1507.9 108.1L1509.9 108.3L1511.9 108.5L1513.9 108.7L1515.9 108.9L1517.9 109.2L1519.9 109.5L1521.8 109.7L1523.8 110.0L1525.8 110.3L1527.8 110.5L1529.8 110.8L1531.7 111.1L1533.7 111.4L1535.7 111.8L1537.7 112.1L1539.6 112.4L1541.6 112.8L1543.6 113.1L1545.6 113.3L1547.5 113.6L1549.5 113.8L1551.5 114.0L1553.5 114.2L1555.5 114.4L1557.5 114.6L1559.5 114.7L1561.5 114.9L1563.5 115.0L1565.5 115.2L1567.5 115.3L1569.5 115.4L1571.5 115.5L1573.5 115.6L1575.5 115.6L1577.5 115.7L1579.5 115.7L1581.5 115.8L1583.5 115.8L1585.5 115.8L1587.5 115.9L1589.5 115.9L1591.5 116.0L1593.5 116.0L1595.5 116.1L1597.5 116.1L1599.5 116.2L1601.5 116.2L1603.5 116.2L1605.5 116.3L1607.5 116.3L1609.5 116.3L1611.5 116.4L1613.5 116.4L1615.5 116.4L1617.5 116.4L1619.5 116.4L1621.5 116.4L1623.5 116.4L1625.5 116.4L1627.5 116.4L1629.5 116.4L1631.5 116.4L1633.5 116.4L1635.5 116.4L1637.5 116.3L1639.5 116.3L1641.5 116.2L1643.5 116.2L1645.4 116.0L1647.4 115.9L1649.4 115.7L1651.4 115.5L1653.4 115.3L1655.4 115.1L1657.4 114.9L1659.4 114.7L1661.4 114.6L1663.4 114.5L1665.4 114.4L1667.4 114.4L1669.4 114.4L1671.3 114.5L1673.2 115.0L1674.6 116.0L1675.5 117.6L1676.0 119.4L1676.2 121.0L1676.2 122.0" fill="none" stroke="#0000ff" stroke-width="4.4" stroke-linejoin="round" stroke-linecap="butt"/>
<path d="M852.2 580.1L852.5 582.1L852.8 584.1L853.1 586.1L853.4 588.0L853.8 590.0L854.1 592.0L854.4 594.0L854.7 595.9L855.0 597.9L855.3 599.9L855.6 601.9L855.9 603.9L856.2 605.8L856.5 607.8L856.8 609.8L857.1 611.8L857.4 613.7L857.7 615.7L858.1 617.7L858.4 619.7L858.7 621.6L859.0 623.6L859.3 625.6L859.7 627.6L860.0 629.5L860.3 631.5L860.6 633.5L860.9 635.5L861.2 637.4L861.5 639.4L861.8 641.4L862.1 643.4L862.4 645.3L862.7 647.3L862.9 649.3L863.2 651.3L863.4 653.3L863.7 655.3L863.9 657.3L864.1 659.2L864.3 661.2L864.5 663.2L864.7 665.2L864.9 667.2L865.0 669.2L865.2 671.2L865.4 673.2L865.6 675.2L865.8 677.2L866.0 679.2L866.2 681.1L866.4 683.1L866.6 685.1L866.8 687.1L867.0 689.1L867.2 691.1L867.4 693.1L867.6 695.1L867.8 697.1L868.0 699.1L868.2 701.0L868.4 703.0L868.6 705.0L868.7 707.0L868.9 709.0L869.1 711.0L869.2 713.0L869.4 715.0L869.5 717.0L869.6 719.0L869.8 721.0L869.9 723.0L870.1 725.0L870.2 727.0L870.3 729.0L870.5 731.0L870.6 732.9L870.8 734.9L871.0 736.9L871.2 738.9L871.3 740.9L871.5 742.9L871.7 744.9L871.9 746.9L872.1 748.9L872.3 750.9L872.6 752.9L872.8 754.8L873.0 756.8L873.2 758.8L873.4 760.8L873.6 762.8L873.8 764.8L874.0 766.8L874.2 768.8L874.4 770.8L874.6 772.8L874.7 774.7L874.9 776.7L875.1 778.7L875.2 780.7L875.4 782.7L875.6 784.7L875.7 786.7L875.9 788.7L876.1 790.7L876.2 792.7L876.4 794.7L876.6 796.7L876.7 798.7L876.9 800.7L877.1 802.7L877.2 804.6L877.4 806.6L877.6 808.6L877.7 810.6L877.9 812.6L878.1 814.6L878.3 816.6L878.4 818.6L878.6 820.6L878.8 822.6L879.0 824.6L879.1 826.6L879.3 828.6L879.5 830.5L879.7 832.5L879.8 834.5L880.0 836.5L880.2 838.5L880.4 840.5L880.6 842.5L880.8 844.5L881.0 846.5L881.2 848.5L881.4 850.4L881.7 852.4L881.9 854.4L882.1 856.4L882.3 858.4L882.4 860.4L882.6 862.4L882.8 864.4L883.0 866.4L883.1 868.4L883.3 870.4L883.4 872.4L883.6 874.4L883.7 876.4L883.8 878.3L883.9 880.3L884.1 882.3L884.2 884.3L884.3 886.3L884.4 888.3L884.5 890.3L884.7 892.3L884.8 894.3L884.9 896.3L885.1 898.3L885.2 900.3L885.4 902.3L885.5 904.3L885.7 906.3L885.9 908.3L886.0 910.3L886.2 912.3L886.4 914.2L886.6 916.2L886.8 918.2L887.0 920.2L887.2 922.2L887.5 924.2L887.7 926.2L887.9 928.2L888.1 930.2L888.3 932.2L888.5 934.1L888.7 936.1L888.9 938.1L889.1 940.1L889.3 942.1L889.5 944.1L889.7 946.1L889.9 948.1L890.1 950.1L890.3 952.0L890.5 954.0L890.7 956.0L890.9 958.0L891.1 960.0L891.3 962.0L891.5 964.0L891.7 966.0L891.9 968.0L892.1 970.0L892.3 972.0L892.5 973.9L892.7 975.9L892.9 977.9L893.1 979.9L893.3 981.9L893.5 983.9L893.6 985.9L893.8 987.9L894.0 989.9L894.2 991.9L894.4 993.9L894.6 995.8L894.8 997.8L895.0 999.8L895.2 1001.8L895.4 1003.8L895.6 1005.8L895.8 1007.8L896.0 1009.8L896.3 1011.8L896.5 1013.7L896.8 1015.7L897.1 1017.7M899.0 1027.5L899.3 1029.5L899.6 1031.5L899.8 1033.5L900.0 1035.4L900.2 1037.4L900.4 1039.4L900.6 1041.4L900.8 1043.4L901.1 1045.4L901.4 1047.4L901.7 1049.3L902.0 1051.3L902.3 1053.3L902.6 1055.3L902.9 1057.2L903.2 1059.2L903.5 1061.2L903.8 1063.2L904.1 1065.2M933.6 1069.7L933.9 1067.8L934.2 1065.8L934.5 1063.8L934.8 1061.8L935.1 1059.8L935.4 1057.9L935.7 1055.9L935.9 1053.9L936.2 1051.9L936.4 1049.9L936.5 1047.9L936.7 1045.9L936.9 1044.0L937.1 1042.0L937.4 1040.0L937.7 1038.0L938.0 1036.0L938.3 1034.1L938.6 1032.1L938.9 1030.1L939.1 1028.1L939.3 1026.1L939.5 1024.1L939.6 1022.1L939.8 1020.1L940.0 1018.2L940.2 1016.2L940.4 1014.2L940.6 1012.2L940.7 1010.2L940.9 1008.2L941.1 1006.2L941.3 1004.2L941.5 1002.2L941.7 1000.2L941.9 998.2L942.1 996.3L942.3 994.3L942.4 992.3L942.6 990.3L942.8 988.3L943.0 986.3L943.2 984.3L943.4 982.3L943.6 980.3L943.8 978.3L944.0 976.3L944.1 974.4L944.3 972.4L944.5 970.4L944.7 968.4L944.9 966.4L945.1 964.4L945.3 962.4L945.5 960.4L945.7 958.4L945.9 956.4L946.1 954.4L946.2 952.5L946.4 950.5L946.6 948.5L946.7 946.5L946.9 944.5L947.1 942.5L947.2 940.5L947.4 938.5L947.5 936.5L947.6 934.5L947.8 932.5L947.9 930.5L948.1 928.5L948.2 926.5L948.4 924.5L948.5 922.5L948.7 920.5L948.8 918.5L948.9 916.6L949.1 914.6L949.2 912.6L949.4 910.6L949.5 908.6L949.7 906.6L949.8 904.6L950.0 902.6L950.1 900.6L950.3 898.6L950.4 896.6L950.6 894.6L950.7 892.6L950.9 890.6L951.0 888.6L951.2 886.6L951.4 884.6L951.5 882.7L951.7 880.7L951.8 878.7L952.0 876.7L952.2 874.7L952.3 872.7L952.5 870.7L952.6 868.7L952.8 866.7L952.9 864.7L953.1 862.7L953.2 860.7L953.4 858.7L953.5 856.7L953.6 854.7L953.7 852.7L953.9 850.7L954.0 848.7L954.1 846.7L954.2 844.7L954.3 842.8L954.5 840.8L954.6 838.8L954.8 836.8L954.9 834.8L955.1 832.8L955.2 830.8L955.4 828.8L955.5 826.8L955.7 824.8L955.8 822.8L956.0 820.8L956.1 818.8L956.3 816.8L956.4 814.8L956.6 812.8L956.7 810.8L956.8 808.8L957.0 806.8L957.1 804.9L957.2 802.9L957.3 800.9L957.4 798.9L957.5 796.9L957.6 794.9L957.7 792.9L957.8 790.9L957.8 788.9L957.9 786.9L958.0 784.9L958.1 782.9L958.3 780.9L958.4 778.9L958.5 776.9L958.7 774.9L958.9 772.9L959.0 770.9L959.2 768.9L959.4 766.9L959.5 764.9L959.7 762.9L959.9 760.9L960.0 759.0L960.2 757.0L960.3 755.0L960.5 753.0L960.6 751.0L960.8 749.0L960.9 747.0L961.1 745.0L961.2 743.0L961.4 741.0L961.5 739.0L961.6 737.0L961.7 735.0L961.8 733.0L961.9 731.0L962.0 729.0L962.1 727.0L962.2 725.0L962.3 723.0L962.4 721.0L962.5 719.0L962.6 717.0L962.7 715.0L962.8 713.0L962.9 711.0L963.0 709.0L963.2 707.1L963.3 705.1L963.4 703.1L963.6 701.1L963.7 699.1L963.9 697.1L964.0 695.1L964.2 693.1L964.3 691.1L964.5 689.1L964.6 687.1L964.8 685.1L964.9 683.1L965.1 681.1L965.2 679.1L965.4 677.1L965.5 675.1L965.7 673.1L965.8 671.2L966.0 669.2L966.1 667.2L966.2 665.2L966.4 663.2L966.5 661.2L966.7 659.2L966.8 657.2L967.0 655.2L967.1 653.2L967.3 651.2L967.5 649.2L967.7 647.2L967.8 645.2L968.0 643.2L968.2 641.3L968.5 639.3L968.7 637.3L968.9 635.3L969.1 633.3L969.3 631.3L969.5 629.3L969.7 627.3L969.9 625.3L970.1 623.4L970.3 621.4L970.5 619.4L970.7 617.4L970.8 615.4L971.0 613.4L971.2 611.4L971.3 609.4L971.5 607.4L971.6 605.4L971.8 603.4L971.9 601.4L972.0 599.4L972.2 597.4L972.4 595.4L972.5 593.4L972.7 591.5L972.9 589.5L973.0 587.5L973.2 585.5L973.4 583.5L973.6 581.5L973.8 579.5L973.9 577.5L974.1 575.5L974.3 573.5L974.5 571.5L974.7 569.5L974.9 567.6L975.1 565.6L975.3 563.6L975.5 561.6L975.8 559.6" fill="none" stroke="#0000ff" stroke-width="5.0" stroke-linejoin="round"/>
<line x1="699.40" y1="207.0" x2="697.50" y2="1111.0" stroke="#000" stroke-width="5" stroke-dasharray="7 9.92"/>
<line x1="1055.50" y1="1049.8" x2="1055.50" y2="1108.0" stroke="#000" stroke-width="5" stroke-dasharray="7 9.92"/>
<line x1="1266.50" y1="1059.3" x2="1266.50" y2="1135.0" stroke="#000" stroke-width="5" stroke-dasharray="7 9.92"/>
<line x1="1422.50" y1="1080.8" x2="1422.50" y2="1135.0" stroke="#000" stroke-width="5" stroke-dasharray="7 9.92"/>
<rect x="213" y="50" width="1471" height="6" fill="#000"/>
<rect x="213" y="1135" width="1471" height="6" fill="#000"/>
<rect x="210" y="52" width="6" height="1086" fill="#000"/>
<rect x="1681" y="52" width="6" height="1086" fill="#000"/>
<rect x="246" y="1127" width="6" height="8" fill="#000"/>
<rect x="336" y="1116" width="6" height="19" fill="#000"/>
<rect x="425" y="1127" width="6" height="8" fill="#000"/>
<rect x="515" y="1116" width="6" height="19" fill="#000"/>
<rect x="605" y="1127" width="6" height="8" fill="#000"/>
<rect x="694" y="1116" width="6" height="19" fill="#000"/>
<rect x="784" y="1127" width="6" height="8" fill="#000"/>
<rect x="874" y="1116" width="6" height="19" fill="#000"/>
<rect x="963" y="1127" width="6" height="8" fill="#000"/>
<rect x="1053" y="1116" width="6" height="19" fill="#000"/>
<rect x="1143" y="1127" width="6" height="8" fill="#000"/>
<rect x="1233" y="1116" width="6" height="19" fill="#000"/>
<rect x="1322" y="1127" width="6" height="8" fill="#000"/>
<rect x="1412" y="1116" width="6" height="19" fill="#000"/>
<rect x="1502" y="1127" width="6" height="8" fill="#000"/>
<rect x="1591" y="1116" width="6" height="19" fill="#000"/>
<rect x="216" y="1045" width="8" height="6" fill="#000"/>
<rect x="216" y="954" width="19" height="6" fill="#000"/>
<rect x="216" y="864" width="8" height="6" fill="#000"/>
<rect x="216" y="773" width="19" height="6" fill="#000"/>
<rect x="216" y="683" width="8" height="6" fill="#000"/>
<rect x="216" y="592" width="19" height="6" fill="#000"/>
<rect x="216" y="502" width="8" height="6" fill="#000"/>
<rect x="216" y="412" width="19" height="6" fill="#000"/>
<rect x="216" y="321" width="8" height="6" fill="#000"/>
<rect x="216" y="231" width="19" height="6" fill="#000"/>
<rect x="216" y="140" width="8" height="6" fill="#000"/>
<rect x="1673" y="1135" width="8" height="6" fill="#000"/>
<rect x="1662" y="1048" width="19" height="6" fill="#000"/>
<rect x="1673" y="961" width="8" height="6" fill="#000"/>
<rect x="1662" y="875" width="19" height="6" fill="#000"/>
<rect x="1673" y="788" width="8" height="6" fill="#000"/>
<rect x="1662" y="701" width="19" height="6" fill="#000"/>
<rect x="1673" y="614" width="8" height="6" fill="#000"/>
<rect x="1662" y="527" width="19" height="6" fill="#000"/>
<rect x="1673" y="441" width="8" height="6" fill="#000"/>
<rect x="1662" y="354" width="19" height="6" fill="#000"/>
<rect x="1673" y="267" width="8" height="6" fill="#000"/>
<rect x="1662" y="180" width="19" height="6" fill="#000"/>
<rect x="1673" y="93" width="8" height="6" fill="#000"/>
<text x="189.5" y="1152.5" font-family="'Liberation Serif','Times New Roman',serif" font-size="50" text-anchor="end">88</text>
<text x="189.5" y="971.7" font-family="'Liberation Serif','Times New Roman',serif" font-size="50" text-anchor="end">90</text>
<text x="189.5" y="790.8" font-family="'Liberation Serif','Times New Roman',serif" font-size="50" text-anchor="end">92</text>
<text x="189.5" y="610.0" font-family="'Liberation Serif','Times New Roman',serif" font-size="50" text-anchor="end">94</text>
<text x="189.5" y="429.2" font-family="'Liberation Serif','Times New Roman',serif" font-size="50" text-anchor="end">96</text>
<text x="189.5" y="248.3" font-family="'Liberation Serif','Times New Roman',serif" font-size="50" text-anchor="end">98</text>
<text x="189.5" y="67.5" font-family="'Liberation Serif','Times New Roman',serif" font-size="50" text-anchor="end">100</text>
<text x="339.6" y="1200.5" font-family="'Liberation Serif','Times New Roman',serif" font-size="50" text-anchor="middle">100</text>
<text x="519.0" y="1200.5" font-family="'Liberation Serif','Times New Roman',serif" font-size="50" text-anchor="middle">200</text>
<text x="698.4" y="1200.5" font-family="'Liberation Serif','Times New Roman',serif" font-size="50" text-anchor="middle">300</text>
<text x="877.7" y="1200.5" font-family="'Liberation Serif','Times New Roman',serif" font-size="50" text-anchor="middle">400</text>
<text x="1057.1" y="1200.5" font-family="'Liberation Serif','Times New Roman',serif" font-size="50" text-anchor="middle">500</text>
<text x="1236.5" y="1200.5" font-family="'Liberation Serif','Times New Roman',serif" font-size="50" text-anchor="middle">600</text>
<text x="1415.9" y="1200.5" font-family="'Liberation Serif','Times New Roman',serif" font-size="50" text-anchor="middle">700</text>
<text x="1595.3" y="1200.5" font-family="'Liberation Serif','Times New Roman',serif" font-size="50" text-anchor="middle">800</text>
<text x="1707" y="197.4" font-family="'Liberation Serif','Times New Roman',serif" font-size="48">0.0</text>
<text x="1707" y="371.0" font-family="'Liberation Serif','Times New Roman',serif" font-size="48">-0.4</text>
<text x="1707" y="544.6" font-family="'Liberation Serif','Times New Roman',serif" font-size="48">-0.8</text>
<text x="1707" y="718.2" font-family="'Liberation Serif','Times New Roman',serif" font-size="48">-1.2</text>
<text x="1707" y="891.8" font-family="'Liberation Serif','Times New Roman',serif" font-size="48">-1.6</text>
<text x="1707" y="1065.4" font-family="'Liberation Serif','Times New Roman',serif" font-size="48">-2.0</text>
<text transform="translate(727 1327) scale(1 1.025)" font-family="'Liberation Serif','Times New Roman',serif" font-size="62" font-weight="bold">Temperature/<tspan dy="-27">o</tspan><tspan dy="27">C</tspan></text>
<text transform="translate(74.8 740.5) rotate(-90) scale(1 1.035)" font-family="'Liberation Serif','Times New Roman',serif" font-size="62" font-weight="bold">Weight /%</text>
<text transform="translate(1887.5 971) rotate(-90) scale(1 1.03)" font-family="'Liberation Serif','Times New Roman',serif" font-size="62" font-weight="bold">Derivative Weight /%.min<tspan dy="-32.7" dx="-2.5" font-size="68">-1</tspan></text>
<text x="666" y="683" font-family="'Liberation Serif','Times New Roman',serif" font-size="53">TG</text>
<text x="1113" y="692" font-family="'Liberation Serif','Times New Roman',serif" font-size="53">DTG</text>
<rect x="777" y="666" width="117.4" height="6" fill="#000"/>
<polygon points="745.9,667.2 778,659 778,679 745.9,670.8" fill="#000"/>
<rect x="983.9" y="669" width="64" height="6" fill="#0000ff"/>
<polygon points="1047,662 1080,670.4 1080,673.6 1047,682" fill="#0000ff"/>
<line x1="240.8" y1="1077.3" x2="337.0" y2="1077.3" stroke="#000" stroke-width="1.4"/>
<polygon points="216.5,1076.4 240.8,1070.4 240.8,1084.2 216.5,1078.2" fill="#000"/>
<line x1="668.0" y1="1079.3" x2="574.0" y2="1079.3" stroke="#000" stroke-width="1.4"/>
<polygon points="694.8,1078.4 668.0,1072.4 668.0,1086.2 694.8,1080.2" fill="#000"/>
<line x1="727.9" y1="1079.4" x2="809.0" y2="1079.4" stroke="#000" stroke-width="1.4"/>
<polygon points="701.0,1078.5 727.9,1072.5 727.9,1086.3 701.0,1080.3" fill="#000"/>
<line x1="1029.1" y1="1077.2" x2="968.0" y2="1077.2" stroke="#000" stroke-width="1.4"/>
<polygon points="1056.0,1076.3 1029.1,1070.3 1029.1,1084.1 1056.0,1078.1" fill="#000"/>
<line x1="1083.9" y1="1101.2" x2="1110.7" y2="1101.2" stroke="#000" stroke-width="1.4"/>
<polygon points="1057.7,1100.3 1083.9,1094.3 1083.9,1108.1 1057.7,1102.1" fill="#000"/>
<line x1="1231.0" y1="1101.2" x2="1211.7" y2="1101.2" stroke="#000" stroke-width="1.4"/>
<polygon points="1257.9,1100.3 1231.0,1094.3 1231.0,1108.1 1257.9,1102.1" fill="#000"/>
<line x1="1286.9" y1="1101.0" x2="1313.8" y2="1101.0" stroke="#000" stroke-width="1.4"/>
<polygon points="1258.9,1100.1 1286.9,1094.1 1286.9,1107.9 1258.9,1101.9" fill="#000"/>
<line x1="1396.1" y1="1103.5" x2="1375.0" y2="1103.5" stroke="#000" stroke-width="1.4"/>
<polygon points="1420.0,1102.6 1396.1,1096.6 1396.1,1110.4 1420.0,1104.4" fill="#000"/>
<line x1="1448.7" y1="1103.5" x2="1475.8" y2="1103.5" stroke="#000" stroke-width="1.4"/>
<polygon points="1425.0,1102.6 1448.7,1096.6 1448.7,1110.4 1425.0,1104.4" fill="#000"/>
<line x1="1656.1" y1="1101.4" x2="1635.0" y2="1101.4" stroke="#000" stroke-width="1.4"/>
<polygon points="1681.0,1100.5 1656.1,1094.5 1656.1,1108.3 1681.0,1102.3" fill="#000"/>
<text x="412.5" y="1090.8" font-family="'Liberation Sans',Arial,sans-serif" font-size="52">s1</text>
<text x="822.5" y="1093.8" font-family="'Liberation Sans',Arial,sans-serif" font-size="52">s2</text>
<text x="1129.3" y="1111.3" font-family="'Liberation Sans',Arial,sans-serif" font-size="52">s3</text>
<text x="1320.3" y="1120.9" font-family="'Liberation Sans',Arial,sans-serif" font-size="52">s4</text>
<text x="1520.3" y="1115.9" font-family="'Liberation Sans',Arial,sans-serif" font-size="52">s5</text>
</svg>
</body></html>
